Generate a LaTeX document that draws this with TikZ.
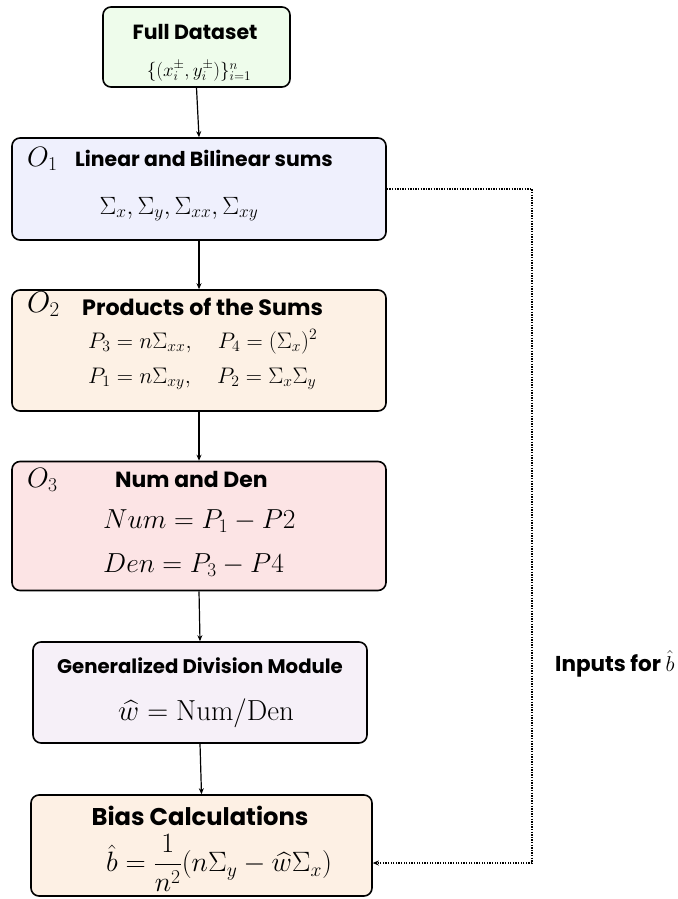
\RequirePackage{fix-cm}
\documentclass[tikz,border=0pt]{standalone}
\usepackage{amsmath}
\usepackage{fontspec}
\newfontfamily\pop{Poppins}
\usetikzlibrary{arrows.meta}
\definecolor{cfull}{HTML}{EEFCEB}
\definecolor{cone}{HTML}{EFF0FD}
\definecolor{ctwo}{HTML}{FDF1E5}
\definecolor{cthree}{HTML}{FCE4E5}
\definecolor{cgdm}{HTML}{F6F0F8}
\definecolor{cbias}{HTML}{FDF0E4}
\tikzset{
  box/.style={draw=black, line width=1.6pt, rounded corners=8pt, inner sep=0pt},
  ttl/.style={font=\pop\bfseries, inner sep=0pt},
  mth/.style={inner sep=0pt},
  conn/.style={line width=1.2pt, -{Stealth[length=6pt,width=5pt]}},
  dots/.style={line width=1.3pt, dash pattern=on 1.3pt off 1.3pt, -{Stealth[length=6pt,width=5pt]}},
}
\newcommand{\fs}[1]{\fontsize{#1}{#1}\selectfont}
\begin{document}
\begin{tikzpicture}[x=1pt,y=-1pt]
\useasboundingbox (0,0) rectangle (677,899);
% boxes
\node[box, fill=cfull, minimum width=187pt, minimum height=80pt] (full) at (196.5,47) {};
\node[box, fill=cone, minimum width=374pt, minimum height=102pt] (o1) at (199,189) {};
\node[box, fill=ctwo, minimum width=374pt, minimum height=121pt] (o2) at (199,350.5) {};
\node[box, fill=cthree, minimum width=374pt, minimum height=129pt] (o3) at (199,526) {};
\node[box, fill=cgdm, minimum width=334pt, minimum height=101pt] (gdm) at (200,692.5) {};
\node[box, fill=cbias, minimum width=341pt, minimum height=101pt] (bias) at (201.5,845.5) {};
% texts
\node[ttl, anchor=base] (fullt) at (195,40) {\fs{20.5}Full Dataset};
\node[mth, anchor=base] (fullm) at (199,76) {\fs{19}$\{(x_i^{\pm},y_i^{\pm})\}_{i=1}^{n}$};
\node[mth, anchor=base west] (o1l) at (27,166) {\fs{28}$O_1$};
\node[ttl, anchor=base west] (o1t) at (75,166) {\fs{20.4}Linear and Bilinear sums};
\node[mth, anchor=base] (o1m) at (179,214) {\fs{25}$\Sigma_x,\Sigma_y,\Sigma_{xx},\Sigma_{xy}$};
\node[mth, anchor=base west] (o2l) at (27,312) {\fs{30}$O_2$};
\node[ttl, anchor=base west] (o2t) at (82,315) {\fs{22.2}Products of the Sums};
\node[mth, anchor=base west] (o2a) at (88,348) {\fs{22.5}$P_3=n\Sigma_{xx},\quad P_4=(\Sigma_x)^2$};
\node[mth, anchor=base west] (o2b) at (88,383) {\fs{22.5}$P_1=n\Sigma_{xy},\quad P_2=\Sigma_x\Sigma_y$};
\node[mth, anchor=base west] (o3l) at (27,487) {\fs{28}$O_3$};
\node[ttl, anchor=base west] (o3t) at (115,487) {\fs{21.9}Num and Den};
\node[mth, anchor=base west] (o3a) at (103,528) {\fs{27.5}$Num=P_1-P2$};
\node[mth, anchor=base west] (o3b) at (103,572) {\fs{27.5}$Den=P_3-P4$};
\node[ttl, anchor=base] (gdmt) at (200,673) {\fs{19.7}Generalized Division Module};
\node[mth, anchor=base] (gdmm) at (206,720) {\fs{29}$\widehat{w}=\mathrm{Num}/\mathrm{Den}$};
\node[ttl, anchor=base] (biast) at (200,825) {\fs{24.2}Bias Calculations};
\node[mth, anchor=west] (biasm) at (106,863) {\fs{28}$\hat{b}=\dfrac{1}{n^2}(n\Sigma_y-\widehat{w}\Sigma_x)$};
\node[ttl, anchor=base west] (inp) at (555,671) {\fs{21.5}Inputs for $\hat{b}$};
% connectors
\draw[conn] (full.south) -- (o1.north);
\draw[conn] (o1.south) -- (o2.north);
\draw[conn] (o2.south) -- (o3.north);
\draw[conn] (o3.south) -- (gdm.north);
\draw[conn] (gdm.south) -- (bias.north);
\coordinate (c1) at (532,189);
\coordinate (c2) at (532,863);
\draw[dots] (o1.east) -- (c1) -- (c2) -- (bias.east |- c2);
\end{tikzpicture}
\end{document}
